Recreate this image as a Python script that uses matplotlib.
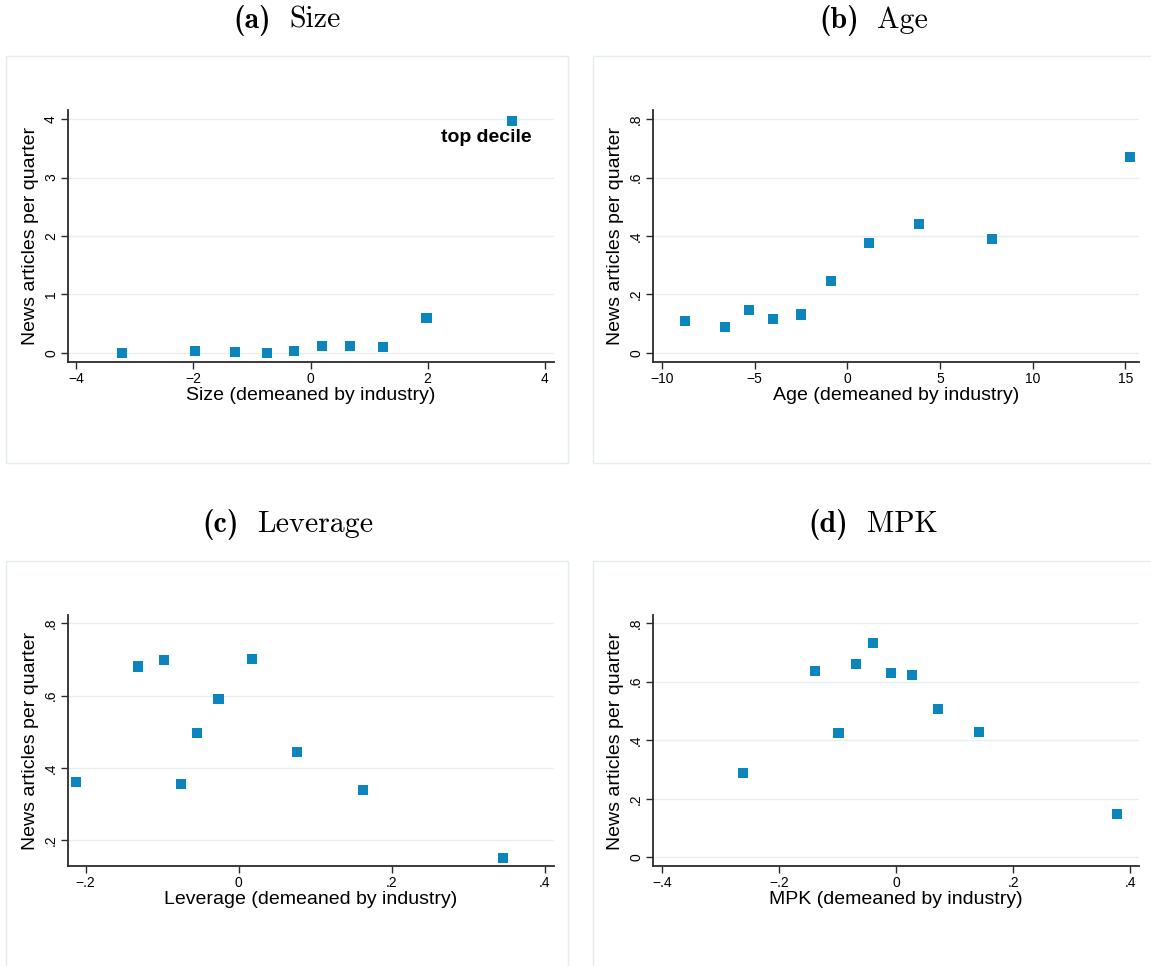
import matplotlib
matplotlib.use("Agg")
import matplotlib.pyplot as plt
from matplotlib.patches import Rectangle
from matplotlib.ticker import FixedLocator, FuncFormatter

# ---------------- data ----------------
size_x = [-3.22, -1.97, -1.29, -0.74, -0.28, 0.20, 0.68, 1.24, 1.98, 3.44]
size_y = [0.00, 0.03, 0.02, 0.00, 0.03, 0.12, 0.12, 0.10, 0.60, 3.97]

age_x = [-8.77, -6.60, -5.31, -4.01, -2.50, -0.88, 1.18, 3.87, 7.80, 15.25]
age_y = [0.109, 0.089, 0.147, 0.116, 0.131, 0.246, 0.376, 0.441, 0.390, 0.670]

lev_x = [-0.2127, -0.1315, -0.0977, -0.0754, -0.0541, -0.0266, 0.0169, 0.0759, 0.1624, 0.3457]
lev_y = [0.360, 0.680, 0.698, 0.355, 0.496, 0.590, 0.701, 0.443, 0.338, 0.150]

mpk_x = [-0.2615, -0.1388, -0.0984, -0.0685, -0.0392, -0.0093, 0.0268, 0.0716, 0.1419, 0.3779]
mpk_y = [0.289, 0.637, 0.426, 0.661, 0.733, 0.630, 0.624, 0.508, 0.429, 0.147]

panel_letters = ["(a)", "(b)", "(c)", "(d)"]
panel_names = ["Size", "Age", "Leverage", "MPK"]
x_labels = ["Size (demeaned by industry)", "Age (demeaned by industry)",
            "Leverage (demeaned by industry)", "MPK (demeaned by industry)"]
y_label = "News articles per quarter"

size_xticks = [-4, -2, 0, 2, 4]
size_yticks = [0, 1, 2, 3, 4]
age_xticks = [-10, -5, 0, 5, 10, 15]
age_yticks = [0, 0.2, 0.4, 0.6, 0.8]
lev_xticks = [-0.2, 0, 0.2, 0.4]
lev_yticks = [0.2, 0.4, 0.6, 0.8]
mpk_xticks = [-0.4, -0.2, 0, 0.2, 0.4]
mpk_yticks = [0, 0.2, 0.4, 0.6, 0.8]

annotation_text = "top decile"

# ---------------- style ----------------
W, H = 1151, 966
MARKER = "#0a85bd"
GRID = "#e6eef0"
BOX = "#e3ecee"
SPINE = "#2b2b2b"
SANS = ["Liberation Sans", "DejaVu Sans"]

fig = plt.figure(figsize=(W / 100, H / 100), dpi=100)
renderer = fig.canvas.get_renderer()


def fx(x):
    return x / W


def fy(y):
    return 1 - y / H


def stata_fmt(v, pos=None):
    if abs(v) < 1e-12:
        return "0"
    if float(v).is_integer():
        s = str(int(abs(v)))
    else:
        s = ("%g" % abs(v))
        if s.startswith("0"):
            s = s[1:]
    return ("\u2212" if v < 0 else "") + s


def panel_box(x0, y0, x1, y1):
    r = Rectangle((fx(x0), fy(y1)), fx(x1) - fx(x0), fy(y0) - fy(y1),
                  transform=fig.transFigure, fill=False, edgecolor=BOX,
                  linewidth=1.0, zorder=0)
    fig.patches.append(r)


def title(cx, cy, letter, name, fs=21.5, gap=18):
    t1 = fig.text(0, fy(cy), letter, family="cmb10", fontsize=fs, ha="left", va="center")
    t2 = fig.text(0, fy(cy), name, family="cmr10", fontsize=fs, ha="left", va="center")
    w1 = t1.get_window_extent(renderer).width
    w2 = t2.get_window_extent(renderer).width
    total = w1 + gap + w2
    left = cx - total / 2
    t1.set_x(fx(left))
    t2.set_x(fx(left + w1 + gap))
    return t1, t2


def make_axes(l, r, t, b, xs, ys, xlim, ylim, xticks, yticks, xlabel):
    ax = fig.add_axes([fx(l), fy(b), fx(r) - fx(l), fy(t) - fy(b)])
    ax.set_facecolor("none")
    ax.scatter(xs, ys, marker="s", s=55, color=MARKER, edgecolors="none", zorder=3)
    ax.set_xlim(*xlim)
    ax.set_ylim(*ylim)
    ax.xaxis.set_major_locator(FixedLocator(xticks))
    ax.yaxis.set_major_locator(FixedLocator(yticks))
    ax.xaxis.set_major_formatter(FuncFormatter(stata_fmt))
    ax.yaxis.set_major_formatter(FuncFormatter(stata_fmt))
    for sp in ["top", "right"]:
        ax.spines[sp].set_visible(False)
    for sp in ["left", "bottom"]:
        ax.spines[sp].set_color(SPINE)
        ax.spines[sp].set_linewidth(1.3)
    ax.tick_params(axis="both", direction="out", length=5, width=1.0,
                   color=SPINE, labelsize=10, pad=2)
    for lab in ax.get_xticklabels():
        lab.set_family(SANS)
    for lab in ax.get_yticklabels():
        lab.set_family(SANS)
        lab.set_rotation(90)
        lab.set_va("center")
    ax.grid(axis="y", color=GRID, linewidth=1.0, zorder=0)
    ax.set_axisbelow(True)
    ax.set_xlabel(xlabel, family=SANS, fontsize=14, labelpad=1)
    ax.set_ylabel(y_label, family=SANS, fontsize=14, labelpad=4)
    return ax


# panel boxes
panel_box(6, 55.5, 568, 463)
panel_box(592.7, 55.5, 1160, 463)
panel_box(6, 560.5, 568, 975)
panel_box(592.7, 560.5, 1160, 975)

# titles
title(287, 20, panel_letters[0], panel_names[0])
title(874, 20, panel_letters[1], panel_names[1])
title(288, 524, panel_letters[2], panel_names[2])
title(873, 524, panel_letters[3], panel_names[3])

ax_a = make_axes(67.8, 554, 110, 362, size_x, size_y, (-4.145, 4.158), (-0.154, 4.154),
                 size_xticks, size_yticks, x_labels[0])
ax_a.annotate(annotation_text, xy=(size_x[-1], size_y[-1]), xytext=(-26 * 0.72, -17 * 0.72),
              textcoords="offset points", ha="center", va="center",
              family=SANS, fontsize=14, fontweight="bold")

ax_b = make_axes(652.8, 1139, 110, 362, age_x, age_y, (-10.5, 15.74), (-0.031, 0.831),
                 age_xticks, age_yticks, x_labels[1])
ax_c = make_axes(67.8, 554, 615, 866, lev_x, lev_y, (-0.2234, 0.412), (0.128, 0.823),
                 lev_xticks, lev_yticks, x_labels[2])
ax_d = make_axes(652.8, 1139, 615, 866, mpk_x, mpk_y, (-0.416, 0.415), (-0.0296, 0.828),
                 mpk_xticks, mpk_yticks, x_labels[3])

fig.savefig("out.png", dpi=100, facecolor="white")
